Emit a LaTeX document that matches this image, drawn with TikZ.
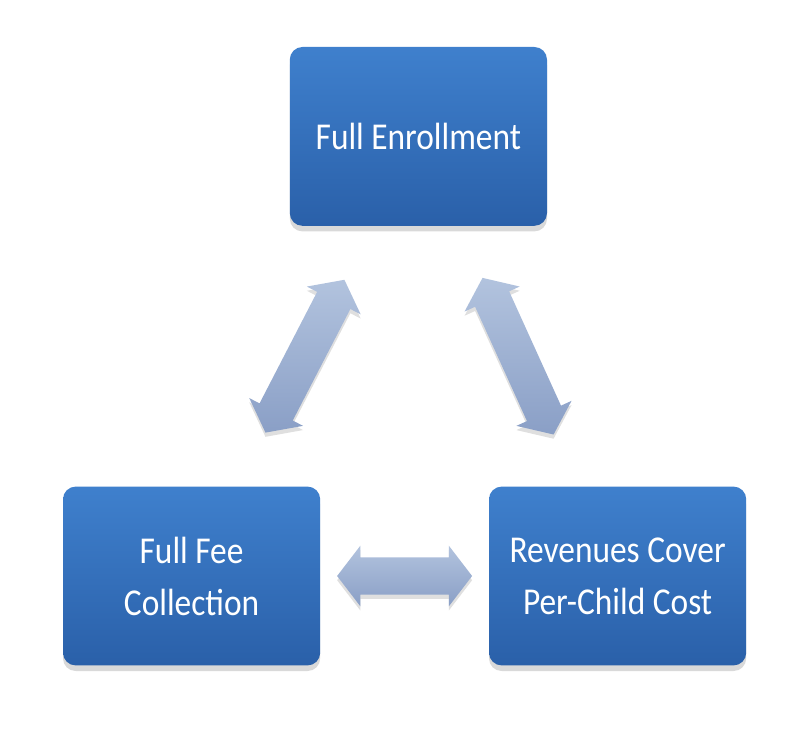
\documentclass[tikz,border=0pt]{standalone}
\usepackage{fontspec}
\setmainfont{Carlito}[FakeStretch=0.88]
\usetikzlibrary{shapes.arrows,shadows}

\definecolor{boxtop}{HTML}{3F80CD}
\definecolor{boxbot}{HTML}{2A60A9}
\definecolor{arrtop}{HTML}{B2C3DE}
\definecolor{arrbot}{HTML}{8A9FC6}

\tikzset{
  goal/.style={rounded corners=9pt, top color=boxtop, bottom color=boxbot, text=white,
    minimum width=6.43cm, minimum height=4.47cm, align=center,
    font=\fontsize{27}{37}\selectfont,
    drop shadow={opacity=0.3, shadow xshift=0pt, shadow yshift=-4pt}},
  link/.style={double arrow, minimum height=4.3cm, inner xsep=0pt, inner ysep=0.46cm,
    double arrow head extend=0.29cm, double arrow tip angle=105,
    top color=arrtop, bottom color=arrbot,
    drop shadow={opacity=0.25, shadow xshift=0pt, shadow yshift=-3pt}}
}

\begin{document}
\begin{tikzpicture}
  \useasboundingbox (0,0) rectangle (20.3,18.35);
  \node[goal] (enroll) at (10.46,14.94) {Full Enrollment};
  \node[goal] (fee) at (4.79,3.95) {Full Fee\\Collection};
  \node[goal] (cost) at (15.44,3.95) {Revenues Cover\\Per-Child Cost};

  \path (enroll) -- node[link, sloped] {} (fee);
  \path (enroll) -- node[link, sloped] {} (cost);
  \path (fee) -- node[link, minimum height=3.375cm] {} (cost);
\end{tikzpicture}
\end{document}
